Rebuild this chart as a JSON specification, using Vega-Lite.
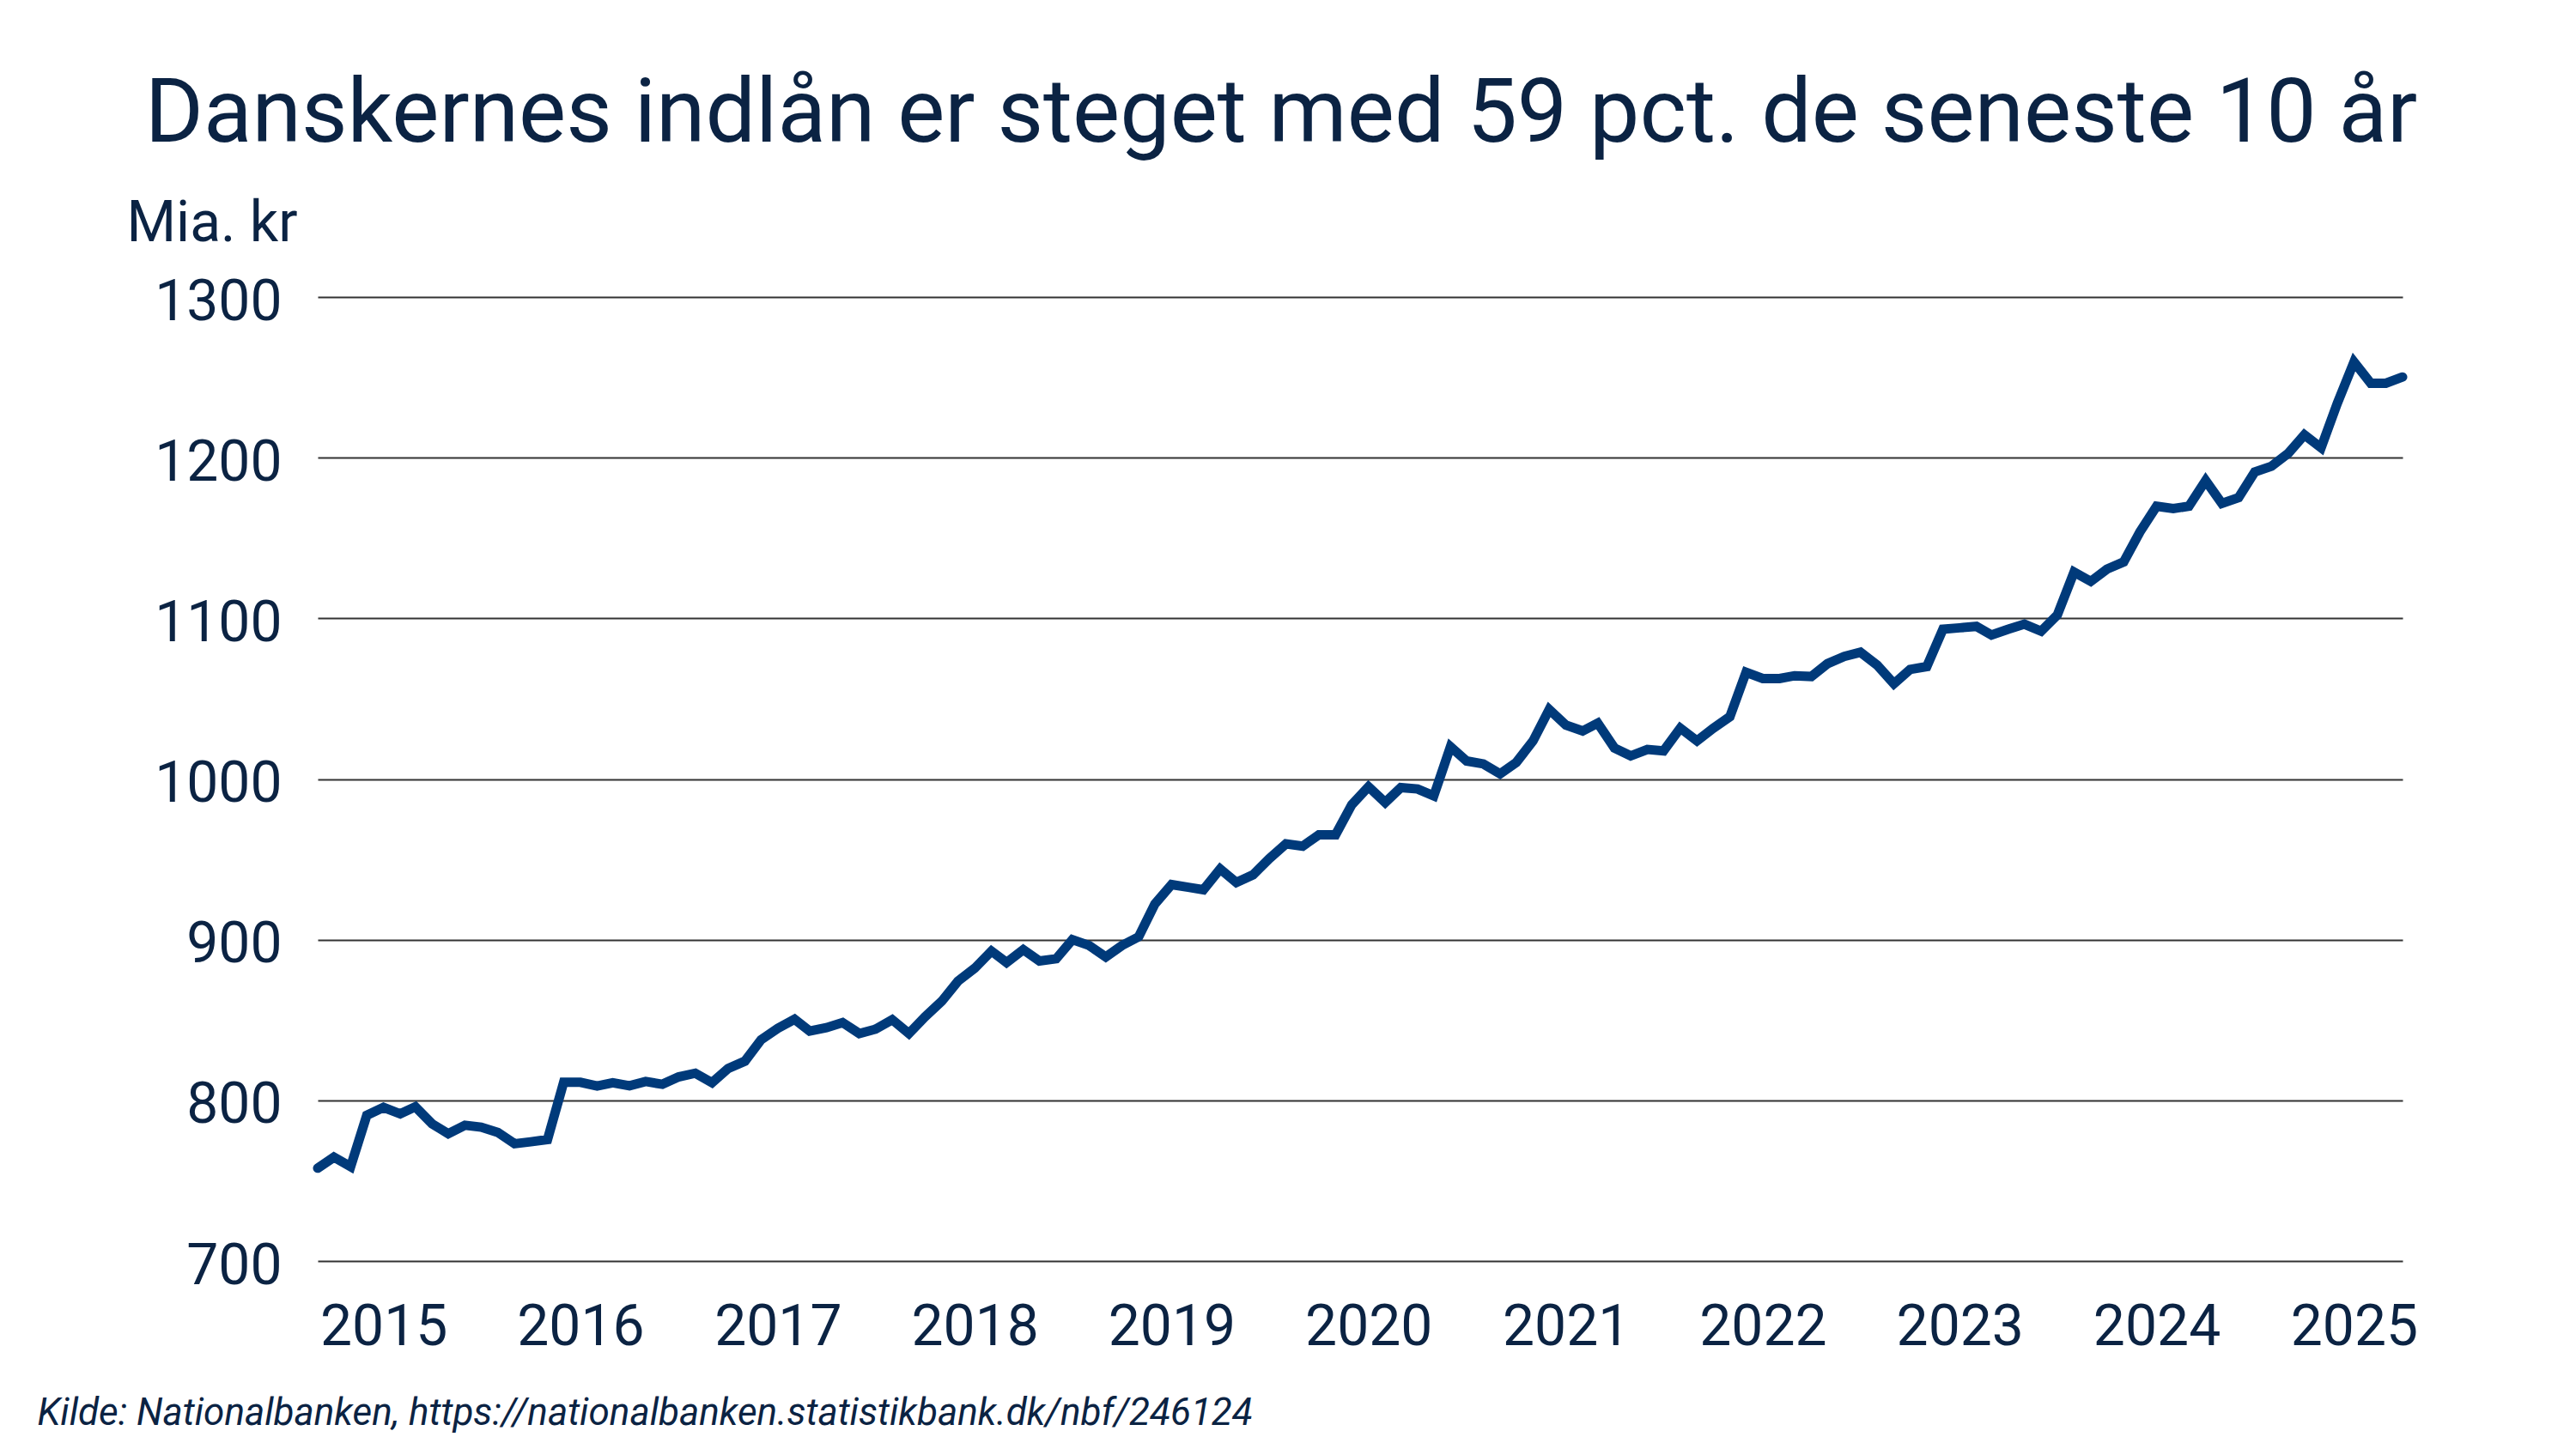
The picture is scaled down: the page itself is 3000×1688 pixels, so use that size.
{
  "$schema": "https://vega.github.io/schema/vega-lite/v6.json",
  "autosize": {"type": "none"},
  "width": 2428,
  "height": 1123,
  "padding": {"left": 370, "top": 346, "right": 202, "bottom": 219},
  "background": "white",
  "title": {
    "text": "Danskernes indlån er steget med 59 pct. de seneste 10 år",
    "font": "Roboto",
    "fontSize": 104,
    "fontWeight": "normal",
    "color": "#0b2343",
    "anchor": "middle",
    "frame": "group",
    "baseline": "alphabetic",
    "dx": -92,
    "dy": 102,
    "offset": 60
  },
  "data": {
    "values": [
      {"date": "2014-09-01", "value": 757.8},
      {"date": "2014-10-01", "value": 764.6},
      {"date": "2014-11-01", "value": 758.7},
      {"date": "2014-12-01", "value": 790.7},
      {"date": "2015-01-01", "value": 795.6},
      {"date": "2015-02-01", "value": 791.6},
      {"date": "2015-03-01", "value": 796.0},
      {"date": "2015-04-01", "value": 785.4},
      {"date": "2015-05-01", "value": 779.2},
      {"date": "2015-06-01", "value": 784.5},
      {"date": "2015-07-01", "value": 783.3},
      {"date": "2015-08-01", "value": 780.0},
      {"date": "2015-09-01", "value": 773.0},
      {"date": "2015-10-01", "value": 774.2},
      {"date": "2015-11-01", "value": 775.6},
      {"date": "2015-12-01", "value": 811.2},
      {"date": "2016-01-01", "value": 811.2},
      {"date": "2016-02-01", "value": 808.9},
      {"date": "2016-03-01", "value": 810.9},
      {"date": "2016-04-01", "value": 809.1},
      {"date": "2016-05-01", "value": 811.7},
      {"date": "2016-06-01", "value": 810.0},
      {"date": "2016-07-01", "value": 814.6},
      {"date": "2016-08-01", "value": 816.9},
      {"date": "2016-09-01", "value": 811.0},
      {"date": "2016-10-01", "value": 819.9},
      {"date": "2016-11-01", "value": 824.4},
      {"date": "2016-12-01", "value": 837.7},
      {"date": "2017-01-01", "value": 844.8},
      {"date": "2017-02-01", "value": 850.5},
      {"date": "2017-03-01", "value": 843.1},
      {"date": "2017-04-01", "value": 845.2},
      {"date": "2017-05-01", "value": 848.4},
      {"date": "2017-06-01", "value": 841.6},
      {"date": "2017-07-01", "value": 844.3},
      {"date": "2017-08-01", "value": 850.2},
      {"date": "2017-09-01", "value": 841.6},
      {"date": "2017-10-01", "value": 852.0},
      {"date": "2017-11-01", "value": 861.7},
      {"date": "2017-12-01", "value": 874.2},
      {"date": "2018-01-01", "value": 882.2},
      {"date": "2018-02-01", "value": 892.9},
      {"date": "2018-03-01", "value": 885.8},
      {"date": "2018-04-01", "value": 893.8},
      {"date": "2018-05-01", "value": 886.7},
      {"date": "2018-06-01", "value": 888.1},
      {"date": "2018-07-01", "value": 900.0},
      {"date": "2018-08-01", "value": 896.4},
      {"date": "2018-09-01", "value": 889.3},
      {"date": "2018-10-01", "value": 896.4},
      {"date": "2018-11-01", "value": 901.8},
      {"date": "2018-12-01", "value": 922.2},
      {"date": "2019-01-01", "value": 934.3},
      {"date": "2019-02-01", "value": 932.6},
      {"date": "2019-03-01", "value": 931.1},
      {"date": "2019-04-01", "value": 944.0},
      {"date": "2019-05-01", "value": 935.6},
      {"date": "2019-06-01", "value": 940.4},
      {"date": "2019-07-01", "value": 950.4},
      {"date": "2019-08-01", "value": 959.6},
      {"date": "2019-09-01", "value": 958.2},
      {"date": "2019-10-01", "value": 965.3},
      {"date": "2019-11-01", "value": 965.3},
      {"date": "2019-12-01", "value": 984.0},
      {"date": "2020-01-01", "value": 995.2},
      {"date": "2020-02-01", "value": 985.4},
      {"date": "2020-03-01", "value": 994.7},
      {"date": "2020-04-01", "value": 993.8},
      {"date": "2020-05-01", "value": 989.5},
      {"date": "2020-06-01", "value": 1020.1},
      {"date": "2020-07-01", "value": 1011.2},
      {"date": "2020-08-01", "value": 1009.4},
      {"date": "2020-09-01", "value": 1003.2},
      {"date": "2020-10-01", "value": 1010.3},
      {"date": "2020-11-01", "value": 1023.7},
      {"date": "2020-12-01", "value": 1043.3},
      {"date": "2021-01-01", "value": 1033.5},
      {"date": "2021-02-01", "value": 1029.9},
      {"date": "2021-03-01", "value": 1034.8},
      {"date": "2021-04-01", "value": 1019.3},
      {"date": "2021-05-01", "value": 1014.4},
      {"date": "2021-06-01", "value": 1018.4},
      {"date": "2021-07-01", "value": 1017.5},
      {"date": "2021-08-01", "value": 1031.7},
      {"date": "2021-09-01", "value": 1023.7},
      {"date": "2021-10-01", "value": 1031.6},
      {"date": "2021-11-01", "value": 1038.8},
      {"date": "2021-12-01", "value": 1066.4},
      {"date": "2022-01-01", "value": 1062.5},
      {"date": "2022-02-01", "value": 1062.5},
      {"date": "2022-03-01", "value": 1064.3},
      {"date": "2022-04-01", "value": 1063.8},
      {"date": "2022-05-01", "value": 1071.8},
      {"date": "2022-06-01", "value": 1076.3},
      {"date": "2022-07-01", "value": 1078.9},
      {"date": "2022-08-01", "value": 1070.9},
      {"date": "2022-09-01", "value": 1059.3},
      {"date": "2022-10-01", "value": 1068.2},
      {"date": "2022-11-01", "value": 1070.0},
      {"date": "2022-12-01", "value": 1093.2},
      {"date": "2023-01-01", "value": 1094.1},
      {"date": "2023-02-01", "value": 1095.0},
      {"date": "2023-03-01", "value": 1089.6},
      {"date": "2023-04-01", "value": 1093.2},
      {"date": "2023-05-01", "value": 1096.4},
      {"date": "2023-06-01", "value": 1092.0},
      {"date": "2023-07-01", "value": 1102.1},
      {"date": "2023-08-01", "value": 1128.8},
      {"date": "2023-09-01", "value": 1123.0},
      {"date": "2023-10-01", "value": 1130.6},
      {"date": "2023-11-01", "value": 1135.1},
      {"date": "2023-12-01", "value": 1153.7},
      {"date": "2024-01-01", "value": 1169.8},
      {"date": "2024-02-01", "value": 1168.3},
      {"date": "2024-03-01", "value": 1169.8},
      {"date": "2024-04-01", "value": 1185.8},
      {"date": "2024-05-01", "value": 1171.5},
      {"date": "2024-06-01", "value": 1175.1},
      {"date": "2024-07-01", "value": 1191.1},
      {"date": "2024-08-01", "value": 1194.7},
      {"date": "2024-09-01", "value": 1202.7},
      {"date": "2024-10-01", "value": 1214.2},
      {"date": "2024-11-01", "value": 1206.2},
      {"date": "2024-12-01", "value": 1233.8},
      {"date": "2025-01-01", "value": 1259.6},
      {"date": "2025-02-01", "value": 1246.3},
      {"date": "2025-03-01", "value": 1246.3},
      {"date": "2025-04-01", "value": 1250.2}
    ]
  },
  "mark": {
    "type": "line",
    "color": "#003a7a",
    "strokeWidth": 11,
    "strokeCap": "round",
    "strokeJoin": "miter",
    "clip": false
  },
  "encoding": {
    "x": {
      "field": "date",
      "type": "temporal",
      "scale": {
        "type": "utc",
        "domain": [
          {"year": 2014, "month": 9, "date": 1, "utc": true},
          {"year": 2025, "month": 4, "date": 1, "utc": true}
        ]
      },
      "axis": {
        "format": "%Y",
        "tickCount": {"interval": "year", "step": 1},
        "labelFont": "Roboto",
        "labelFontSize": 66,
        "labelColor": "#0b2343",
        "labelPadding": 45,
        "labelFlush": false,
        "labelOverlap": false,
        "ticks": false,
        "tickSize": 0,
        "domain": false,
        "grid": false,
        "title": "Kilde: Nationalbanken, https://nationalbanken.statistikbank.dk/nbf/246124",
        "titleFont": "Roboto",
        "titleFontSize": 44,
        "titleFontStyle": "italic",
        "titleFontWeight": "normal",
        "titleColor": "#0b2343",
        "titleAnchor": "start",
        "titleAlign": "left",
        "titleBaseline": "alphabetic",
        "titleX": -327,
        "titleY": 190
      }
    },
    "y": {
      "field": "value",
      "type": "quantitative",
      "scale": {"domain": [700, 1300], "nice": false, "zero": false},
      "axis": {
        "values": [700, 800, 900, 1000, 1100, 1200, 1300],
        "format": "d",
        "labelFont": "Roboto",
        "labelFontSize": 66,
        "labelColor": "#0b2343",
        "labelPadding": 42,
        "labelOffset": 6,
        "ticks": false,
        "tickSize": 0,
        "domain": false,
        "grid": true,
        "gridColor": "#333333",
        "gridWidth": 2,
        "title": "Mia. kr",
        "titleFont": "Roboto",
        "titleFontSize": 66,
        "titleFontWeight": "normal",
        "titleColor": "#0b2343",
        "titleAngle": 0,
        "titleAlign": "left",
        "titleBaseline": "alphabetic",
        "titleX": -223,
        "titleY": -66
      }
    }
  },
  "config": {
    "view": {"stroke": null}
  }
}
